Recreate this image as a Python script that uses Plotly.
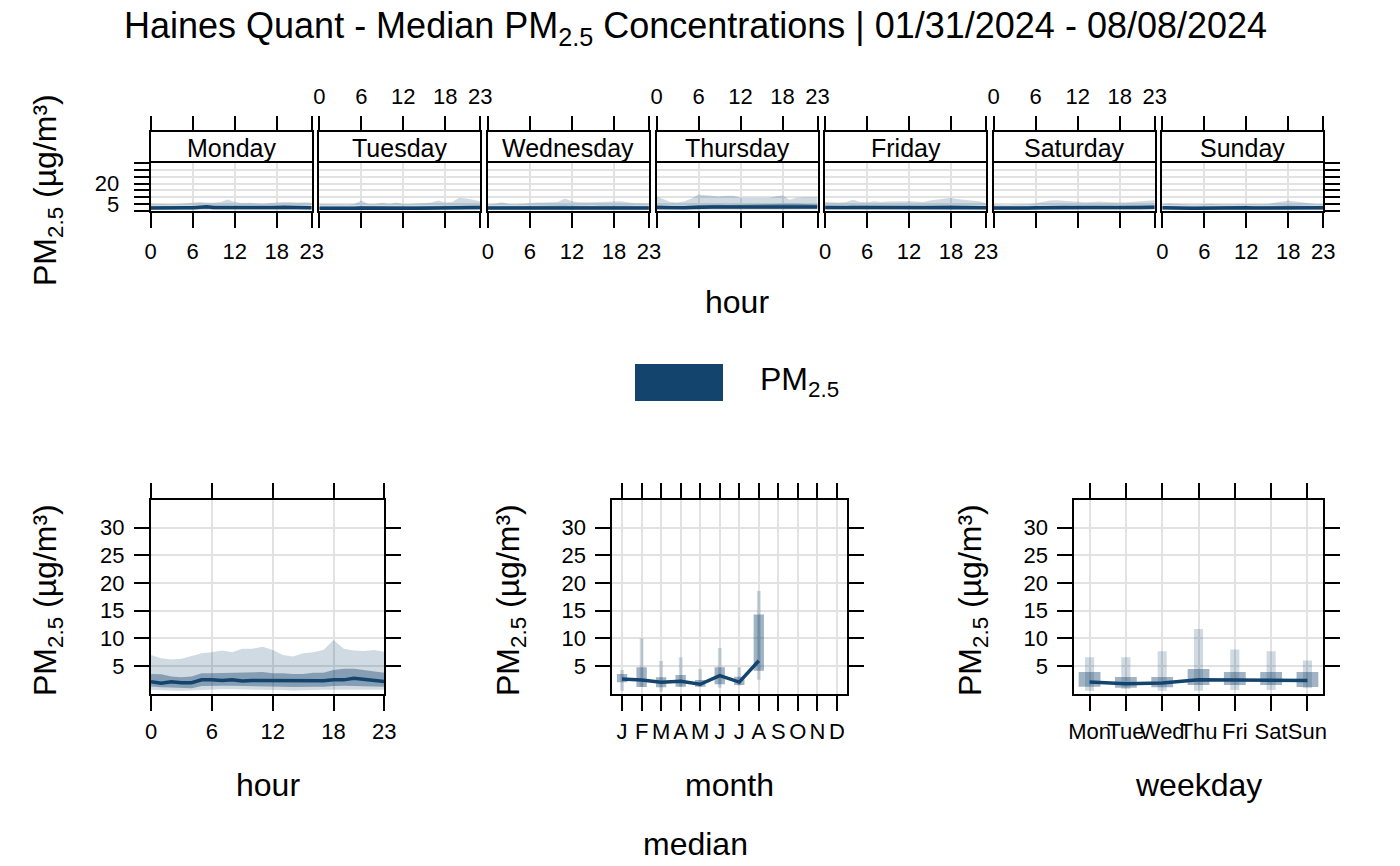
import plotly.graph_objects as go

W, H = 1400, 866
OFF = 8  # the page body margin shifts the figure by this many pixels
FONT = "Liberation Sans, Arial, sans-serif"
COL = "rgb(19,68,110)"
FILL_OUT = "rgba(19,68,110,0.2)"
FILL_IN = "rgba(19,68,110,0.4)"
GRID = "rgb(226,226,226)"

# ---------------- data ----------------
hours = list(range(24))
day_names = ["Monday", "Tuesday", "Wednesday", "Thursday", "Friday", "Saturday", "Sunday"]

# top row: per weekday, hourly quantiles (rows Mon..Sun)
top_p95 = [
    [5.2, 5.0, 4.8, 4.7, 5.0, 5.5, 6.0, 6.5, 6.0, 5.8, 6.5, 8.3, 6.5, 5.6, 5.8, 5.5, 5.2, 5.6, 6.2, 6.5, 6.4, 6.0, 6.2, 5.8],
    [5.0, 4.8, 4.6, 4.5, 4.6, 5.0, 7.5, 5.0, 5.0, 5.8, 5.0, 6.0, 5.0, 5.0, 5.2, 5.5, 6.0, 7.5, 6.0, 6.5, 9.5, 9.0, 8.0, 7.0],
    [4.8, 5.2, 6.2, 5.0, 4.8, 5.2, 5.8, 6.0, 6.0, 6.2, 6.5, 9.0, 7.0, 6.2, 6.0, 6.2, 6.5, 6.8, 7.2, 7.0, 6.2, 5.5, 5.5, 5.4],
    [10.5, 8.5, 6.5, 6.0, 7.0, 9.0, 12.0, 11.5, 11.0, 10.5, 11.0, 11.0, 9.5, 9.5, 9.5, 9.0, 9.5, 10.5, 11.5, 8.0, 9.5, 10.0, 10.0, 10.0],
    [6.5, 6.2, 6.0, 6.5, 8.0, 6.5, 6.2, 7.0, 6.5, 6.8, 7.0, 7.2, 7.0, 6.8, 6.5, 7.5, 8.0, 8.5, 9.5, 8.5, 8.0, 7.5, 7.0, 5.5],
    [4.5, 4.3, 4.2, 4.5, 4.6, 4.8, 5.5, 6.5, 7.5, 7.8, 7.5, 7.0, 6.5, 6.2, 6.5, 6.8, 6.5, 6.2, 6.0, 6.2, 6.5, 7.0, 7.5, 7.8],
    [5.0, 5.5, 5.2, 4.8, 4.5, 4.6, 5.0, 5.2, 4.8, 4.6, 4.8, 5.0, 5.2, 5.0, 4.8, 5.0, 5.8, 6.5, 7.5, 6.8, 6.0, 5.5, 5.0, 5.0],
]
top_p75 = [
    [3.2, 3.1, 3.0, 3.0, 3.1, 3.3, 3.4, 3.6, 4.0, 3.6, 3.4, 3.5, 3.6, 3.4, 3.3, 3.3, 3.2, 3.4, 3.6, 3.7, 3.6, 3.5, 3.5, 3.4],
    [3.0, 2.9, 2.9, 2.8, 2.9, 3.0, 3.3, 3.1, 3.0, 3.2, 3.1, 3.2, 3.0, 3.0, 3.1, 3.2, 3.3, 3.6, 3.5, 3.7, 4.0, 4.0, 3.8, 3.6],
    [3.1, 3.2, 3.3, 3.1, 3.0, 3.1, 3.3, 3.4, 3.5, 3.5, 3.6, 3.9, 3.6, 3.4, 3.4, 3.5, 3.6, 3.7, 3.8, 3.8, 3.6, 3.4, 3.3, 3.2],
    [4.0, 3.6, 3.4, 3.4, 3.5, 3.8, 4.3, 4.5, 4.5, 4.4, 4.3, 4.4, 4.3, 4.2, 4.2, 4.4, 4.6, 4.9, 5.2, 5.3, 5.2, 4.9, 4.6, 4.5],
    [3.6, 3.5, 3.4, 3.5, 3.8, 3.6, 3.5, 3.6, 3.6, 3.7, 3.7, 3.8, 3.8, 3.7, 3.6, 3.8, 3.9, 4.0, 4.2, 4.0, 3.9, 3.8, 3.6, 3.4],
    [3.0, 2.9, 2.9, 3.0, 3.0, 3.1, 3.3, 3.5, 3.8, 3.9, 3.8, 3.7, 3.6, 3.5, 3.6, 3.7, 3.6, 3.5, 3.5, 3.6, 3.7, 3.8, 3.9, 4.0],
    [3.2, 3.3, 3.2, 3.0, 2.9, 3.0, 3.1, 3.2, 3.1, 3.0, 3.1, 3.2, 3.2, 3.1, 3.1, 3.2, 3.4, 3.6, 3.9, 3.8, 3.6, 3.4, 3.3, 3.2],
]
top_median = [
    [2.0, 1.9, 1.9, 1.9, 2.0, 2.1, 2.2, 2.5, 3.0, 2.4, 2.2, 2.3, 2.4, 2.3, 2.2, 2.2, 2.2, 2.3, 2.4, 2.5, 2.4, 2.4, 2.3, 2.2],
    [1.9, 1.8, 1.8, 1.8, 1.8, 1.9, 2.0, 1.9, 1.9, 2.0, 1.9, 2.0, 1.9, 1.9, 1.9, 2.0, 2.0, 2.2, 2.2, 2.4, 2.6, 2.5, 2.4, 2.3],
    [2.0, 2.0, 2.1, 2.0, 1.9, 2.0, 2.1, 2.1, 2.2, 2.2, 2.2, 2.3, 2.2, 2.1, 2.1, 2.1, 2.2, 2.2, 2.3, 2.3, 2.2, 2.1, 2.1, 2.0],
    [2.4, 2.2, 2.1, 2.1, 2.1, 2.3, 2.6, 2.8, 2.8, 2.7, 2.7, 2.7, 2.6, 2.6, 2.6, 2.7, 2.8, 3.0, 3.1, 3.1, 3.0, 2.9, 2.9, 2.8],
    [2.4, 2.3, 2.2, 2.3, 2.4, 2.3, 2.3, 2.3, 2.4, 2.4, 2.4, 2.5, 2.5, 2.4, 2.4, 2.4, 2.5, 2.5, 2.6, 2.5, 2.4, 2.3, 2.3, 2.2],
    [2.0, 1.9, 1.9, 1.9, 2.0, 2.0, 2.1, 2.2, 2.3, 2.4, 2.3, 2.3, 2.2, 2.2, 2.3, 2.3, 2.2, 2.2, 2.3, 2.3, 2.4, 2.4, 2.5, 2.5],
    [2.1, 2.2, 2.1, 2.0, 1.9, 1.9, 2.0, 2.1, 2.0, 2.0, 2.0, 2.1, 2.1, 2.0, 2.0, 2.1, 2.2, 2.3, 2.5, 2.4, 2.3, 2.2, 2.1, 2.1],
]
top_p25 = [
    [1.2, 1.1, 1.1, 1.1, 1.1, 1.2, 1.3, 1.4, 1.6, 1.4, 1.3, 1.3, 1.3, 1.3, 1.3, 1.3, 1.3, 1.3, 1.4, 1.4, 1.4, 1.4, 1.3, 1.3],
    [1.1, 1.1, 1.0, 1.0, 1.0, 1.1, 1.2, 1.1, 1.1, 1.2, 1.1, 1.2, 1.1, 1.1, 1.1, 1.2, 1.2, 1.3, 1.3, 1.4, 1.5, 1.5, 1.4, 1.3],
    [1.2, 1.2, 1.2, 1.1, 1.1, 1.1, 1.2, 1.2, 1.3, 1.3, 1.3, 1.3, 1.3, 1.2, 1.2, 1.2, 1.3, 1.3, 1.3, 1.3, 1.3, 1.2, 1.2, 1.2],
    [1.4, 1.3, 1.2, 1.2, 1.2, 1.3, 1.5, 1.6, 1.6, 1.6, 1.5, 1.5, 1.5, 1.5, 1.5, 1.6, 1.6, 1.7, 1.8, 1.8, 1.8, 1.7, 1.7, 1.6],
    [1.4, 1.3, 1.3, 1.3, 1.4, 1.3, 1.3, 1.3, 1.4, 1.4, 1.4, 1.4, 1.4, 1.4, 1.4, 1.4, 1.4, 1.5, 1.5, 1.5, 1.4, 1.4, 1.3, 1.3],
    [1.1, 1.1, 1.1, 1.1, 1.1, 1.2, 1.2, 1.3, 1.3, 1.4, 1.3, 1.3, 1.3, 1.3, 1.3, 1.3, 1.3, 1.3, 1.3, 1.3, 1.4, 1.4, 1.4, 1.4],
    [1.2, 1.3, 1.2, 1.2, 1.1, 1.1, 1.2, 1.2, 1.2, 1.2, 1.2, 1.2, 1.2, 1.2, 1.2, 1.2, 1.3, 1.3, 1.4, 1.4, 1.3, 1.3, 1.2, 1.2],
]
top_p5 = [
    [0.6, 0.6, 0.5, 0.5, 0.5, 0.6, 0.6, 0.7, 0.8, 0.7, 0.7, 0.7, 0.7, 0.6, 0.6, 0.6, 0.6, 0.7, 0.7, 0.7, 0.7, 0.7, 0.6, 0.6],
    [0.5, 0.5, 0.5, 0.5, 0.5, 0.5, 0.6, 0.5, 0.5, 0.6, 0.6, 0.6, 0.5, 0.5, 0.6, 0.6, 0.6, 0.6, 0.7, 0.7, 0.8, 0.8, 0.7, 0.6],
    [0.6, 0.6, 0.6, 0.5, 0.5, 0.6, 0.6, 0.6, 0.7, 0.7, 0.7, 0.7, 0.7, 0.6, 0.6, 0.6, 0.7, 0.7, 0.7, 0.7, 0.6, 0.6, 0.6, 0.6],
    [0.7, 0.6, 0.6, 0.6, 0.6, 0.7, 0.8, 0.8, 0.8, 0.8, 0.8, 0.8, 0.8, 0.7, 0.7, 0.8, 0.8, 0.9, 0.9, 0.9, 0.9, 0.8, 0.8, 0.8],
    [0.7, 0.7, 0.6, 0.6, 0.7, 0.6, 0.6, 0.7, 0.7, 0.7, 0.7, 0.7, 0.7, 0.7, 0.7, 0.7, 0.7, 0.8, 0.8, 0.8, 0.7, 0.7, 0.7, 0.6],
    [0.5, 0.5, 0.5, 0.5, 0.5, 0.6, 0.6, 0.6, 0.7, 0.7, 0.7, 0.7, 0.6, 0.6, 0.6, 0.6, 0.6, 0.6, 0.6, 0.7, 0.7, 0.7, 0.7, 0.7],
    [0.6, 0.6, 0.6, 0.6, 0.5, 0.5, 0.6, 0.6, 0.6, 0.6, 0.6, 0.6, 0.6, 0.6, 0.6, 0.6, 0.6, 0.7, 0.7, 0.7, 0.7, 0.6, 0.6, 0.6],
]

# bottom-left: hour of day
hour_p95 = [7.0, 6.4, 6.2, 6.3, 6.8, 7.3, 7.5, 7.8, 7.5, 8.1, 8.1, 8.5, 7.9, 7.0, 6.7, 7.3, 7.5, 7.9, 9.7, 8.1, 7.8, 7.7, 7.9, 7.6]
hour_p75 = [3.55, 3.5, 3.1, 2.95, 3.1, 3.7, 3.7, 3.75, 3.8, 3.8, 3.85, 3.9, 3.7, 3.7, 3.55, 3.55, 3.8, 3.8, 4.3, 4.5, 4.5, 4.3, 4.0, 3.8]
hour_median = [2.17, 1.9, 2.17, 2.0, 2.0, 2.5, 2.5, 2.4, 2.5, 2.3, 2.4, 2.4, 2.3, 2.3, 2.3, 2.35, 2.35, 2.35, 2.5, 2.5, 2.8, 2.6, 2.4, 2.2]
hour_p25 = [1.3, 1.15, 1.1, 1.0, 1.0, 1.4, 1.4, 1.45, 1.45, 1.4, 1.45, 1.45, 1.3, 1.26, 1.2, 1.2, 1.26, 1.26, 1.4, 1.45, 1.5, 1.45, 1.3, 1.26]
hour_p5 = [0.7, 0.6, 0.6, 0.55, 0.55, 0.7, 0.75, 0.8, 0.8, 0.75, 0.75, 0.75, 0.7, 0.65, 0.6, 0.6, 0.65, 0.7, 0.75, 0.8, 0.8, 0.75, 0.7, 0.7]

# bottom-middle: month
months = list(range(1, 13))
month_labels = ["J", "F", "M", "A", "M", "J", "J", "A", "S", "O", "N", "D"]
month_x = [1, 2, 3, 4, 5, 6, 7, 8]
month_p95 = [4.3, 10.0, 5.9, 6.6, 4.46, 8.25, 4.76, 18.55]
month_p75 = [3.55, 4.76, 2.95, 3.37, 2.47, 4.76, 3.07, 14.3]
month_median = [2.65, 2.47, 2.05, 2.23, 1.7, 3.25, 2.1, 5.96]
month_p25 = [2.05, 1.2, 1.15, 1.26, 1.26, 1.7, 1.57, 4.16]
month_p5 = [0.55, 1.26, 0.36, 1.26, 1.26, 1.08, 1.5, 2.53]

# bottom-right: weekday
wd_x = [1, 2, 3, 4, 5, 6, 7]
wd_labels = ["Mon", "Tue", "Wed", "Thu", "Fri", "Sat", "Sun"]
wd_p95 = [6.57, 6.57, 7.65, 11.7, 8.0, 7.65, 6.0]
wd_p75 = [3.9, 3.0, 3.0, 4.46, 3.9, 3.9, 3.9]
wd_median = [2.1, 1.8, 1.93, 2.53, 2.47, 2.47, 2.4]
wd_p25 = [1.26, 1.08, 1.15, 1.57, 1.57, 1.57, 1.2]
wd_p5 = [0.54, 0.84, 0.54, 0.54, 0.66, 0.66, 1.0]

y_ticks = [0, 5, 10, 15, 20, 25, 30, 35]
hour_ticks = [0, 6, 12, 18, 23]

# ---------------- helpers ----------------
def xd(px):
    return (px - OFF) / W


def yd(py):
    return 1 - (py - OFF) / H


def ax_key(kind, n):
    return kind + ("axis" if n == 1 else "axis%d" % n)


def ref(kind, n):
    return kind if n == 1 else "%s%d" % (kind, n)


fig = go.Figure()
layout = dict(
    width=W, height=H, margin=dict(l=0, r=0, t=0, b=0, pad=0, autoexpand=False),
    plot_bgcolor="white", paper_bgcolor="white", showlegend=False,
    barmode="overlay", font=dict(family=FONT, color="black"),
)

line_common = dict(showline=True, linecolor="black", linewidth=2, zeroline=False, automargin=False)
TICK_FS = 22
tickfont = dict(family=FONT, size=TICK_FS, color="black")


def add_band(n, xs, lo, hi, color):
    fig.add_trace(go.Scatter(
        x=list(xs) + list(xs)[::-1], y=list(hi) + list(lo)[::-1],
        fill="toself", fillcolor=color, line=dict(width=0), mode="lines",
        hoverinfo="skip", xaxis=ref("x", n), yaxis=ref("y", n)))


def add_line(n, xs, ys):
    fig.add_trace(go.Scatter(
        x=xs, y=ys, mode="lines", line=dict(color=COL, width=3.5),
        hoverinfo="skip", xaxis=ref("x", n), yaxis=ref("y", n)))


# ---------------- top row: day panels ----------------
TOP_Y0, TOP_Y1 = 163.3, 210.7
STRIP_Y0 = 132.0
X0, PITCH, PW = 150.7, 168.6, 161.0

annotations = []
for i, day in enumerate(day_names):
    n = i + 1
    s = i + 8
    x0 = X0 + i * PITCH
    x1 = x0 + PW
    add_band(n, hours, top_p5[i], top_p95[i], FILL_OUT)
    add_band(n, hours, top_p25[i], top_p75[i], FILL_IN)
    add_line(n, hours, top_median[i])
    # empty trace so that the strip subplot is drawn
    fig.add_trace(go.Scatter(x=[], y=[], mode="lines", hoverinfo="skip",
                             xaxis=ref("x", s), yaxis=ref("y", s)))

    layout[ax_key("x", n)] = dict(
        domain=[xd(x0), xd(x1)], range=[0, 23], anchor=ref("y", n),
        tickvals=hour_ticks, ticks="outside", ticklen=15, tickwidth=2, tickcolor="black",
        showticklabels=(i % 2 == 0), tickfont=tickfont, ticklabelstandoff=5,
        showgrid=True, gridcolor=GRID, gridwidth=1.5, mirror=True, **line_common)
    ytext = ["", "5", "", "", "20", "", "", ""]
    layout[ax_key("y", n)] = dict(
        domain=[yd(TOP_Y1), yd(TOP_Y0)], range=[0, 35], anchor=ref("x", n),
        tickvals=y_ticks, ticktext=ytext,
        ticks="outside" if n in (1, 7) else "", ticklen=15, tickwidth=2, tickcolor="black",
        side="right" if n == 7 else "left",
        showticklabels=(n == 1), tickfont=tickfont, ticklabelstandoff=10,
        showgrid=True, gridcolor=GRID, gridwidth=1.5, mirror=True, **line_common)

    # strip panel (its bottom edge is the panel's top line)
    layout[ax_key("x", s)] = dict(
        domain=[xd(x0), xd(x1)], range=[0, 23], anchor=ref("y", s), side="top",
        tickvals=hour_ticks, ticks="outside", ticklen=14, tickwidth=2, tickcolor="black",
        showticklabels=(i % 2 == 1), tickfont=tickfont, ticklabelstandoff=3,
        showgrid=False, mirror=False, **line_common)
    layout[ax_key("y", s)] = dict(
        domain=[yd(TOP_Y0), yd(STRIP_Y0)], range=[0, 1], anchor=ref("x", s),
        ticks="", showticklabels=False, showgrid=False, mirror=True, **line_common)
    annotations.append(dict(
        text=day, x=(xd(x0) + xd(x1)) / 2, y=(yd(TOP_Y0) + yd(STRIP_Y0)) / 2,
        xref="paper", yref="paper",
        showarrow=False, font=dict(family=FONT, size=25, color="black"),
        xanchor="center", yanchor="middle"))

# ---------------- bottom row ----------------
BOT_Y0, BOT_Y1 = 500.0, 693.7
bottom = [
    (15, 151.0, 384.3, [0, 23], hour_ticks, [str(h) for h in hour_ticks]),
    (16, 612.3, 846.7, [0.5, 12.5], months, month_labels),
    (17, 1074.3, 1322.7, [0.58, 7.42], wd_x, wd_labels),
]
for n, x0, x1, xr, tv, tt in bottom:
    layout[ax_key("x", n)] = dict(
        domain=[xd(x0), xd(x1)], range=xr, anchor=ref("y", n),
        tickvals=tv, ticktext=tt, tickangle=0, ticks="outside", ticklen=15, tickwidth=2,
        tickcolor="black", tickfont=tickfont, ticklabelstandoff=2,
        showgrid=True, gridcolor=GRID, gridwidth=1.5, mirror="ticks", **line_common)
    layout[ax_key("y", n)] = dict(
        domain=[yd(BOT_Y1), yd(BOT_Y0)], range=[0, 35], anchor=ref("x", n),
        tickvals=[5, 10, 15, 20, 25, 30], ticks="outside", ticklen=15, tickwidth=2, tickcolor="black",
        tickfont=tickfont, ticklabelstandoff=5,
        showgrid=True, gridcolor=GRID, gridwidth=1.5, mirror="ticks", **line_common)

# hour panel
add_band(15, hours, hour_p5, hour_p95, FILL_OUT)
add_band(15, hours, hour_p25, hour_p75, FILL_IN)
add_line(15, hours, hour_median)

# month panel
fig.add_trace(go.Bar(x=month_x, base=month_p5, y=[a - b for a, b in zip(month_p95, month_p5)],
                     width=0.19, marker=dict(color=FILL_OUT, line=dict(width=0)),
                     hoverinfo="skip", xaxis="x16", yaxis="y16"))
fig.add_trace(go.Bar(x=month_x, base=month_p25, y=[a - b for a, b in zip(month_p75, month_p25)],
                     width=0.53, marker=dict(color=FILL_IN, line=dict(width=0)),
                     hoverinfo="skip", xaxis="x16", yaxis="y16"))
add_line(16, month_x, month_median)

# weekday panel
fig.add_trace(go.Bar(x=wd_x, base=wd_p5, y=[a - b for a, b in zip(wd_p95, wd_p5)],
                     width=0.25, marker=dict(color=FILL_OUT, line=dict(width=0)),
                     hoverinfo="skip", xaxis="x17", yaxis="y17"))
fig.add_trace(go.Bar(x=wd_x, base=wd_p25, y=[a - b for a, b in zip(wd_p75, wd_p25)],
                     width=0.6, marker=dict(color=FILL_IN, line=dict(width=0)),
                     hoverinfo="skip", xaxis="x17", yaxis="y17"))
add_line(17, wd_x, wd_median)

# ---------------- text ----------------
TITLE_FS = 36
AX_FS = 32
ylabel = "PM<sub>2.5</sub> (µg/m³)"


def ann(text, px, py, size, angle=0, xanchor="center"):
    annotations.append(dict(text=text, x=xd(px), y=yd(py), xref="paper", yref="paper",
                            showarrow=False, textangle=angle, xanchor=xanchor, yanchor="middle",
                            font=dict(family=FONT, size=size, color="black")))


ann("Haines Quant - Median PM<sub>2.5</sub> Concentrations | 01/31/2024 - 08/08/2024", 695, 28, TITLE_FS)
ann(ylabel, 47, 190, AX_FS, angle=-90)
ann("hour", 737, 302, AX_FS)
ann("PM<sub>2.5</sub>", 758, 381, AX_FS, xanchor="left")
ann(ylabel, 47, 600, AX_FS, angle=-90)
ann(ylabel, 510, 600, AX_FS, angle=-90)
ann(ylabel, 972, 600, AX_FS, angle=-90)
ann("hour", 267.5, 785, AX_FS)
ann("month", 729.5, 785, AX_FS)
ann("weekday", 1198.5, 785, AX_FS)
ann("median", 695, 844, AX_FS)

layout["annotations"] = annotations
layout["shapes"] = [dict(type="rect", xref="paper", yref="paper",
                         x0=xd(635), x1=xd(723), y0=yd(401), y1=yd(364),
                         fillcolor=COL, line=dict(width=0))]

fig.update_layout(**layout)
fig.write_html("out.html")
